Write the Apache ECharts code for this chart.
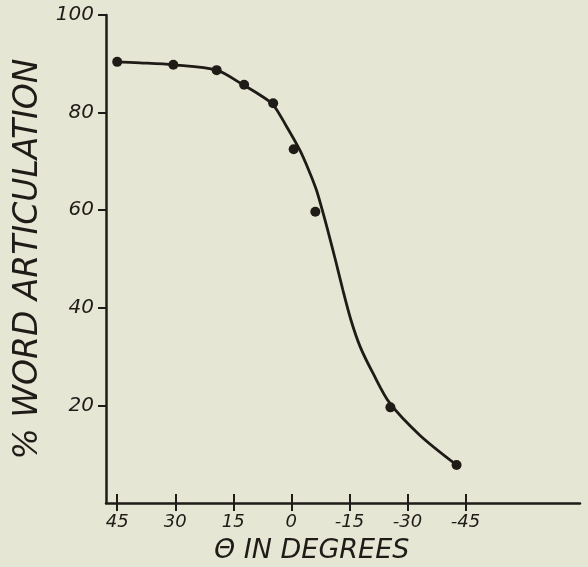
<!DOCTYPE html>
<html>
<head>
<meta charset="utf-8">
<script src="https://cdn.jsdelivr.net/npm/echarts@6/dist/echarts.min.js"></script>
<style>html,body{margin:0;padding:0;background:#e6e6d5;}#c{width:588px;height:567px;}</style>
</head>
<body>
<div id="c"></div>
<script>
// Measured points (angle in degrees, % word articulation)
var pointAngles = [45, 30.5, 19.3, 12.2, 4.7, -0.6, -6.2, -25.6, -42.7];
var pointValues = [90.4, 89.8, 88.7, 85.7, 81.9, 72.5, 59.7, 19.6, 7.8];
// Hand-drawn smooth curve
var curveAngles = [45.3, 39.1, 30.5, 19.3, 12.5, 8.1, 4.7, 1.2, -2.2, -4.5, -6.5, -8.0, -9.4, -11.4, -13.3, -15.4, -17.8, -21.1, -25.4, -33.2, -42.7];
var curveValues = [90.4, 90.2, 89.8, 88.7, 85.7, 83.6, 81.6, 77.1, 72.3, 68.2, 64.1, 60.0, 55.9, 49.8, 43.7, 37.5, 32.0, 26.6, 20.5, 13.9, 7.8];
// Tick labels
var xTicks = [45, 30, 15, 0, -15, -30, -45];
var yTicks = [20, 40, 60, 80, 100];

var ink = '#1f1b17';
function zip(a, b) { return a.map(function (v, i) { return [v, b[i]]; }); }

var chart = echarts.init(document.getElementById('c'), null, {renderer: 'canvas'});
chart.setOption({
  backgroundColor: '#e6e6d5',
  animation: false,
  grid: {left: 106, right: 8, top: 15, bottom: 64},
  xAxis: [{
    type: 'value', inverse: true, min: -74.6, max: 47.9,
    axisLine: {show: true, onZero: false, lineStyle: {color: ink, width: 2.5}},
    axisTick: {show: true, length: 8, customValues: xTicks, lineStyle: {color: ink, width: 2}},
    axisLabel: {customValues: xTicks, margin: 10, color: ink, fontSize: 18, fontStyle: 'italic', fontFamily: 'DejaVu Sans'},
    splitLine: {show: false}
  }, {
    type: 'value', inverse: true, min: -74.6, max: 47.9, position: 'bottom',
    axisLine: {show: false, onZero: false},
    axisTick: {show: true, inside: true, length: 9, customValues: xTicks, lineStyle: {color: ink, width: 2}},
    axisLabel: {show: false},
    splitLine: {show: false}
  }],
  yAxis: {
    type: 'value', min: 0, max: 100,
    axisLine: {show: true, onZero: false, lineStyle: {color: ink, width: 2.5}},
    axisTick: {show: true, length: 8, customValues: yTicks, lineStyle: {color: ink, width: 2}},
    axisLabel: {customValues: yTicks, margin: 12, color: ink, fontSize: 20, fontStyle: 'italic', fontFamily: 'DejaVu Sans'},
    splitLine: {show: false},
    name: '% WORD ARTICULATION', nameLocation: 'middle', nameGap: 59,
    nameTextStyle: {color: ink, fontSize: 33, fontFamily: 'DejaVu Sans', fontStyle: 'italic'}
  },
  graphic: [{
    type: 'text', left: 214, top: 537,
    style: {text: 'Θ IN DEGREES', fill: ink, font: 'italic 27px "DejaVu Sans"'}
  }],
  series: [{
    type: 'line', data: zip(curveAngles, curveValues), smooth: 0.3, showSymbol: false,
    lineStyle: {color: ink, width: 2.8, cap: 'round'}, z: 2
  }, {
    type: 'scatter', data: zip(pointAngles, pointValues), symbolSize: 10,
    itemStyle: {color: ink, opacity: 1}, z: 3
  }]
});
</script>
</body>
</html>
